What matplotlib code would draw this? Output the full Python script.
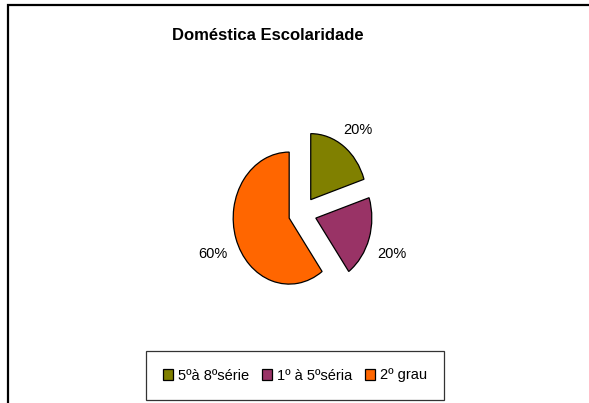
import matplotlib
matplotlib.use('Agg')
import matplotlib.pyplot as plt
from matplotlib.patches import Rectangle

plt.rcParams['font.family'] = ['Liberation Sans', 'DejaVu Sans']

# data
labels = ['5ºà 8ºsérie', '1º à 5ºséria', '2º grau']
shares = [20, 20, 60]
colours = ['#808000', '#993366', '#FF6600']
title = 'Doméstica Escolaridade'

W, H = 589, 403
fig = plt.figure(figsize=(W / 100, H / 100), dpi=100)

# outer chart frame (only top and left edges are visible in the crop)
fig.patches.append(Rectangle((8 / W, -0.05), 1.2, (H - 5) / H + 0.05,
                             transform=fig.transFigure, fill=False,
                             edgecolor='black', linewidth=1.6))

# pie axes, slightly taller than wide like the original
ax = fig.add_axes([218.5 / W, 91 / H, 168 / W, 198 / H])
wedges, texts = ax.pie(shares, colors=colours, startangle=90, counterclock=False,
                       explode=[0.25] * len(shares), radius=1.0,
                       labels=[f'{v}%' for v in shares], labeldistance=1.43,
                       wedgeprops=dict(edgecolor='black', linewidth=0.9),
                       textprops=dict(fontsize=10.5))
for t in texts:
    t.set_horizontalalignment('center')
    t.set_verticalalignment('top')
ax.set_xlim(-1.5, 1.5)
ax.set_ylim(-1.5, 1.5)
ax.set_aspect('auto')
ax.axis('off')

fig.text(267.5 / W, 1 - 35 / H, title, ha='center', va='center',
         fontsize=12, fontweight='bold')

leg = fig.legend(wedges, labels, loc='center', bbox_to_anchor=(295 / W, 1 - 375.5 / H),
                 ncol=3, frameon=True, fancybox=False, fontsize=10.5,
                 handlelength=0.7, handleheight=0.7, handletextpad=0.3,
                 columnspacing=0.9, borderpad=1.2, borderaxespad=0)
leg.get_frame().set_edgecolor('black')
leg.get_frame().set_linewidth(0.9)

fig.savefig('out.png', dpi=100)
